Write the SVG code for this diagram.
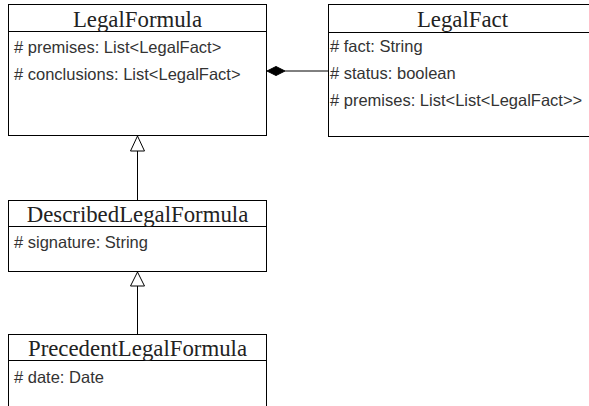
<svg xmlns="http://www.w3.org/2000/svg" width="589" height="406" viewBox="0 0 589 406">
<style>
.box{fill:#fff;stroke:#000;stroke-width:1}
.sep{stroke:#000;stroke-width:1;fill:none}
.title{font-family:"Liberation Serif","Times New Roman",serif;font-size:22.8px;fill:#222;text-anchor:middle}
.attr{font-family:"Liberation Sans",Arial,sans-serif;font-size:16.5px;fill:#333}
.edge{stroke:#000;stroke-width:1;fill:none}
</style>
<rect width="589" height="406" fill="#fff"/>
<g id="connectors">
<line class="edge" x1="285" y1="71" x2="328.5" y2="71"/>
<polygon points="267,71 276,66.5 285,71 276,75.5" fill="#000" stroke="#000" stroke-width="1"/>
<line class="edge" x1="137.5" y1="151" x2="137.5" y2="200.5"/>
<polygon points="137.5,136 130.5,151 144.5,151" fill="#fff" stroke="#000" stroke-width="1"/>
<line class="edge" x1="137.5" y1="286" x2="137.5" y2="334.5"/>
<polygon points="137.5,272 130.5,286 144.5,286" fill="#fff" stroke="#000" stroke-width="1"/>
</g>
<g id="LegalFormula">
<rect class="box" x="8.5" y="4.5" width="258" height="131"/>
<line class="sep" x1="8.5" y1="31.5" x2="266.5" y2="31.5"/>
<text class="title" x="137.5" y="26.5">LegalFormula</text>
<text class="attr" x="14" y="53">#  premises: List&lt;LegalFact&gt;</text>
<text class="attr" x="14" y="80">#  conclusions: List&lt;LegalFact&gt;</text>
</g>
<g id="LegalFact">
<rect class="box" x="328.5" y="4.5" width="268" height="132"/>
<line class="sep" x1="328.5" y1="32.5" x2="596.5" y2="32.5"/>
<text class="title" x="462.5" y="26.5">LegalFact</text>
<text class="attr" x="330" y="52">#  fact: String</text>
<text class="attr" x="330" y="79">#  status: boolean</text>
<text class="attr" x="330" y="106">#  premises: List&lt;List&lt;LegalFact&gt;&gt;</text>
</g>
<g id="DescribedLegalFormula">
<rect class="box" x="8.5" y="200.5" width="258" height="71"/>
<line class="sep" x1="8.5" y1="226.5" x2="266.5" y2="226.5"/>
<text class="title" x="137.5" y="222">DescribedLegalFormula</text>
<text class="attr" x="14" y="248">#  signature: String</text>
</g>
<g id="PrecedentLegalFormula">
<rect class="box" x="8.5" y="334.5" width="258" height="90"/>
<line class="sep" x1="8.5" y1="360.5" x2="266.5" y2="360.5"/>
<text class="title" x="137.5" y="356">PrecedentLegalFormula</text>
<text class="attr" x="14" y="383">#  date: Date</text>
</g>
</svg>
